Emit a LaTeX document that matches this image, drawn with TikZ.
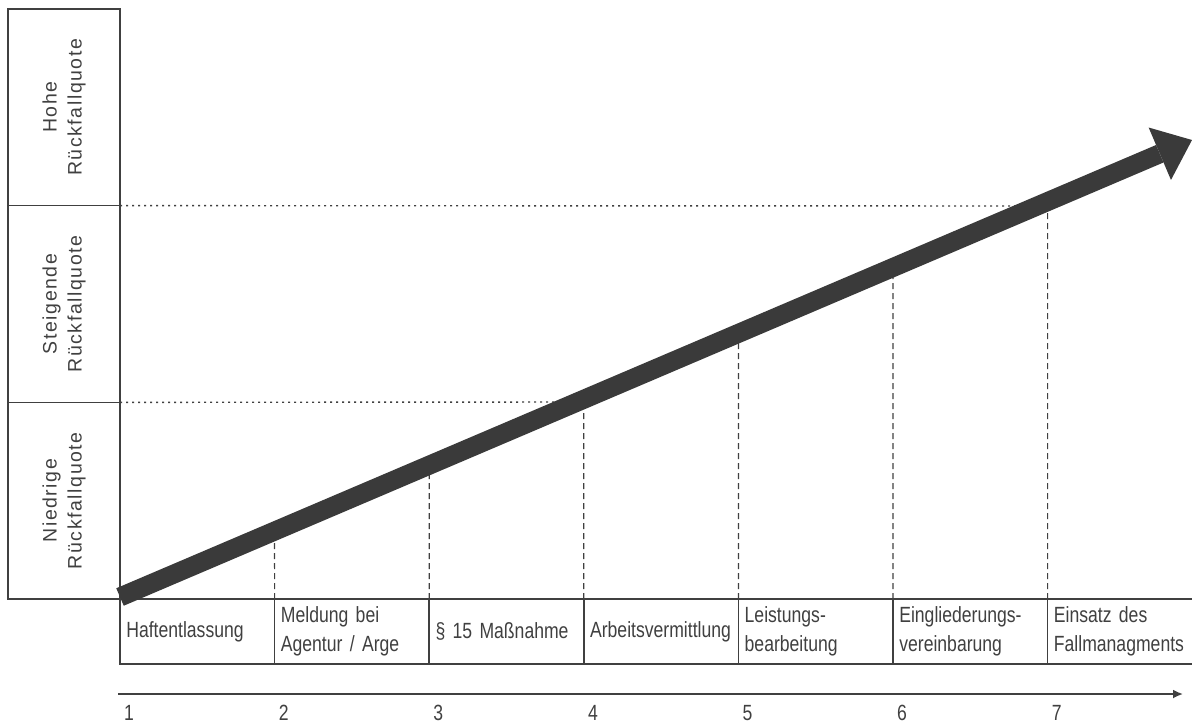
\documentclass[tikz,border=0pt]{standalone}
\usepackage{fontspec}
\usepackage{tikz}
\usetikzlibrary{calc,arrows.meta}
\setmainfont{Liberation Sans}
\newfontfamily\schmal[FakeStretch=0.8]{Liberation Sans}
\newfontfamily\gesperrt[LetterSpace=8]{Liberation Sans}
\definecolor{linie}{RGB}{64,64,64}
\definecolor{pfeilgrau}{RGB}{58,58,58}

\begin{document}
\begin{tikzpicture}[x=1pt,y=-1pt,
  rand/.style={draw=linie, line width=1.6pt},
  quote/.style={rand, rotate=90, minimum width=196.7pt, minimum height=112pt,
    inner sep=0pt, outer sep=0pt, align=center,
    font=\gesperrt\fontsize{19.5}{25}\selectfont, text=linie},
  zelle/.style={rand, anchor=north west, minimum width=154.6pt, minimum height=65pt,
    text width=142pt, inner xsep=6pt, inner ysep=0pt, outer sep=0pt, align=left,
    font=\schmal\fontsize{22}{29}\selectfont, text=linie},
  nummer/.style={anchor=west, inner sep=0pt, font=\schmal\fontsize{22}{24}\selectfont, text=linie},
  punkte/.style={linie, line width=1.4pt, dash pattern=on 2pt off 4pt},
  striche/.style={linie, line width=1.2pt, dash pattern=on 6pt off 4pt},
  achse/.style={linie, line width=1.8pt, -{Latex[length=10pt,width=9pt]}},
  pfeil/.style={pfeilgrau, line width=19pt, -{Triangle[length=35pt,width=57pt,line width=0pt]}}]

  % Rahmen
  \useasboundingbox (0,0) rectangle (1192,726);
  \clip (0,0) rectangle (1192,726);

  % Rueckfallquoten (links)
  \node[quote] (hoch)     at (64,107.3) {Hohe\\Rückfallquote};
  \node[quote] (steigend) at (64,304)   {Steigende\\Rückfallquote};
  \node[quote] (niedrig)  at (64,500.7) {Niedrige\\Rückfallquote};

  % Pfeil: Anfang und Spitze
  \coordinate (start)  at (120,597);
  \coordinate (spitze) at (1192,140);
  \coordinate (kreuz1) at ($(start)!0.8556!(spitze)$);
  \coordinate (kreuz2) at ($(start)!0.4267!(spitze)$);

  % Stationen und Nummern
  \foreach \i/\txt in {1/Haftentlassung, 2/{Meldung bei\\Agentur / Arge},
      3/{§ 15 Maßnahme}, 4/Arbeitsvermittlung, 5/{Leistungs-\\bearbeitung},
      6/{Eingliederungs-\\vereinbarung}, 7/{Einsatz des\\Fallmanagments}} {
    \node[zelle] (zelle\i) at ({120+(\i-1)*154.6},599) {\txt};
    \node[nummer] (nummer\i) at ({124+(\i-1)*154.6},713) {\i};
  }

  % Hilfslinien bis zum Pfeil
  % (hoch.south west / steigend.south west = rechte untere Ecke, da gedreht)
  \draw[punkte] (hoch.south west) -- (kreuz1);
  \draw[punkte] (steigend.south west) -- (kreuz2);
  \foreach \i in {2,...,7}
    \draw[striche] (zelle\i.north west) -- ($(start)!{(\i-1)*154.6/1072}!(spitze)$);

  % Zeitachse
  \coordinate (achse0) at (118,694);
  \coordinate (achse1) at (1183,694);
  \draw[achse] (achse0) -- (achse1);

  % Pfeil
  \draw[pfeil] (start) -- (spitze);

\end{tikzpicture}
\end{document}
